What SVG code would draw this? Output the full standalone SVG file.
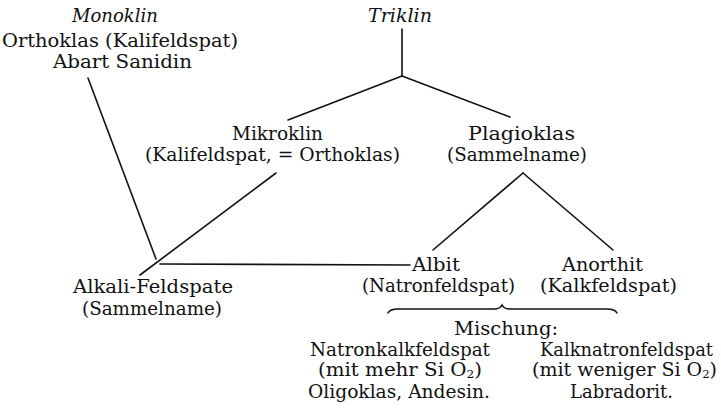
<svg xmlns="http://www.w3.org/2000/svg" width="721" height="410" viewBox="0 0 721 410">
<style>
text{font-family:"DejaVu Serif","Liberation Serif",serif;font-size:18px;fill:#111;text-anchor:middle}
.it{font-style:italic}
.ln{stroke:#111;stroke-width:1.6;fill:none;stroke-linecap:round}
.sub{font-size:11px}
</style>
<rect width="721" height="410" fill="#fff"/>
<g id="connectors">
<line class="ln" x1="402" y1="29" x2="402" y2="76"/>
<line class="ln" x1="402" y1="76" x2="288" y2="120"/>
<line class="ln" x1="402" y1="76" x2="510" y2="117"/>
<line class="ln" x1="88" y1="78" x2="156" y2="259"/>
<line class="ln" x1="276" y1="173" x2="140" y2="275"/>
<line class="ln" x1="160" y1="264" x2="410" y2="265"/>
<line class="ln" x1="523" y1="173" x2="433" y2="250"/>
<line class="ln" x1="523" y1="173" x2="613" y2="250"/>
<path class="ln" stroke-width="2" d="M388,313 Q390,309 398,309 L494,309 Q500,309 502,305 Q504,309 510,309 L607,309 Q615,309 617,313"/>
</g>
<g id="monoklin">
<text class="it" x="115" y="22" textLength="86" lengthAdjust="spacingAndGlyphs">Monoklin</text>
<text x="120" y="47" textLength="236" lengthAdjust="spacingAndGlyphs">Orthoklas (Kalifeldspat)</text>
<text x="122.5" y="68" textLength="139" lengthAdjust="spacingAndGlyphs">Abart Sanidin</text>
</g>
<g id="triklin">
<text class="it" x="400" y="22" textLength="64" lengthAdjust="spacingAndGlyphs">Triklin</text>
</g>
<g id="mikroklin">
<text x="277.5" y="140" textLength="91" lengthAdjust="spacingAndGlyphs">Mikroklin</text>
<text x="272.5" y="161" textLength="255" lengthAdjust="spacingAndGlyphs">(Kalifeldspat, = Orthoklas)</text>
</g>
<g id="plagioklas">
<text x="521.5" y="140" textLength="107" lengthAdjust="spacingAndGlyphs">Plagioklas</text>
<text x="517" y="161" textLength="140" lengthAdjust="spacingAndGlyphs">(Sammelname)</text>
</g>
<g id="alkali">
<text x="153" y="293" textLength="160" lengthAdjust="spacingAndGlyphs">Alkali-Feldspate</text>
<text x="152" y="315" textLength="140" lengthAdjust="spacingAndGlyphs">(Sammelname)</text>
</g>
<g id="albit">
<text x="436" y="271" textLength="48" lengthAdjust="spacingAndGlyphs">Albit</text>
<text x="438.5" y="292" textLength="153" lengthAdjust="spacingAndGlyphs">(Natronfeldspat)</text>
</g>
<g id="anorthit">
<text x="602.5" y="271" textLength="81" lengthAdjust="spacingAndGlyphs">Anorthit</text>
<text x="608.5" y="292" textLength="137" lengthAdjust="spacingAndGlyphs">(Kalkfeldspat)</text>
</g>
<g id="mischung">
<text x="506" y="335" textLength="104" lengthAdjust="spacingAndGlyphs">Mischung:</text>
</g>
<g id="natronkalk">
<text x="400" y="356" textLength="180" lengthAdjust="spacingAndGlyphs">Natronkalkfeldspat</text>
<text x="400" y="376" textLength="164" lengthAdjust="spacingAndGlyphs">(mit mehr Si O<tspan class="sub" dy="2">2</tspan><tspan dy="-2">)</tspan></text>
<text x="399" y="398" textLength="182" lengthAdjust="spacingAndGlyphs">Oligoklas, Andesin.</text>
</g>
<g id="kalknatron">
<text x="626.5" y="356" textLength="173" lengthAdjust="spacingAndGlyphs">Kalknatronfeldspat</text>
<text x="624.5" y="376" textLength="185" lengthAdjust="spacingAndGlyphs">(mit weniger Si O<tspan class="sub" dy="2">2</tspan><tspan dy="-2">)</tspan></text>
<text x="621.5" y="398" textLength="103" lengthAdjust="spacingAndGlyphs">Labradorit.</text>
</g>
</svg>
